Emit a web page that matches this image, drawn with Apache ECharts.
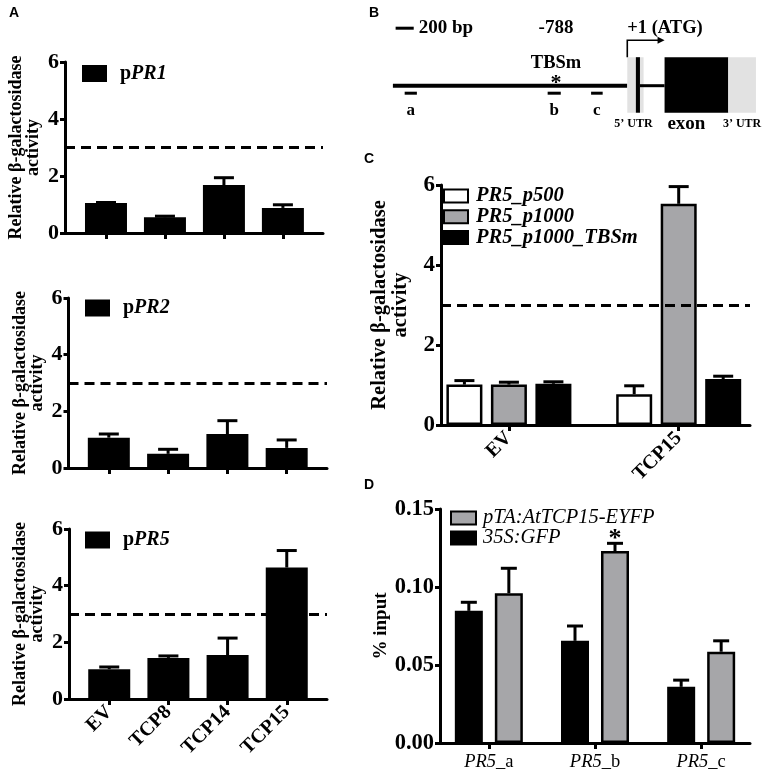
<!DOCTYPE html>
<html><head><meta charset="utf-8">
<script src="https://cdn.jsdelivr.net/npm/echarts@6/dist/echarts.min.js"></script>
<style>html,body{margin:0;padding:0;background:#fff}#chart{width:767px;height:779px}</style>
</head><body><div id="chart"></div>
<script>
// ---------- Panel A data ----------
const aCategories = ['EV', 'TCP8', 'TCP14', 'TCP15'];
const aYTicks = [0, 2, 4, 6];
const aThreshold = 3;
const pr1Values = [1.05, 0.55, 1.68, 0.88];
const pr1Errors = [0.02, 0.04, 0.26, 0.11];
const pr2Values = [1.07, 0.50, 1.20, 0.71];
const pr2Errors = [0.13, 0.16, 0.47, 0.28];
const pr5Values = [1.05, 1.45, 1.55, 4.64];
const pr5Errors = [0.08, 0.07, 0.60, 0.60];
// ---------- Panel C data ----------
const cCategories = ['EV', 'TCP15'];
const cNames = ['PR5_p500', 'PR5_p1000', 'PR5_p1000_TBSm'];
const cP500Values = [1.01, 0.77];
const cP500Errors = [0.10, 0.21];
const cP1000Values = [1.01, 5.53];
const cP1000Errors = [0.06, 0.43];
const cTBSmValues = [1.03, 1.15];
const cTBSmErrors = [0.05, 0.07];
const cYTicks = [0, 2, 4, 6];
const cThreshold = 3;
// ---------- Panel D data ----------
const dCategories = ['a', 'b', 'c'];
const dNames = ['pTA:AtTCP15-EYFP', '35S:GFP'];
const dGFPValues = [0.0847, 0.0655, 0.036];
const dGFPErrors = [0.0055, 0.0095, 0.0043];
const dTCP15Values = [0.096, 0.123, 0.0585];
const dTCP15Errors = [0.016, 0.005, 0.007];
const dSignificance = ['', '*', ''];
const dYTicks = [0, 0.05, 0.10, 0.15];
// ---------- Panel B schematic (bp, relative to ATG) ----------
const promoterRange = [-2590, 0];
const utr5Range = [0, 180];
const firstExonRange = [95, 140];
const intronRange = [140, 412];
const exonRange = [412, 1116];
const utr3Range = [1116, 1422];
const tbsPosition = -788;
const fragmentLabels = ['a', 'b', 'c'];
const fragmentRanges = [[-2460, -2325], [-880, -735], [-400, -272]];
const scaleBarRange = [-2560, -2360];
const scaleLabel = '200 bp';

const serif = 'Liberation Serif';
const sans = 'Liberation Sans';
const gray = '#a6a6a9';

function yAxisCfg(grid, ticks, name, nameGap, nameSize, nameLH, labelSize, fmt) {
  return {
    type: 'value', gridIndex: grid, min: ticks[0], max: ticks[ticks.length - 1], interval: ticks[1] - ticks[0],
    name: name, nameLocation: 'middle', nameGap: nameGap, nameRotate: 90,
    nameTextStyle: { fontFamily: serif, fontWeight: 'bold', fontSize: nameSize, color: '#000', lineHeight: nameLH },
    axisLine: { show: true, onZero: false, lineStyle: { color: '#000', width: 3 } },
    axisTick: { show: true, length: 5, lineStyle: { color: '#000', width: 3 } },
    axisLabel: { fontFamily: serif, fontWeight: 'bold', fontSize: labelSize, color: '#000', margin: 6, formatter: fmt },
    splitLine: { show: false }
  };
}
function xAxisCfg(grid, min, max, cats, label) {
  const idx = cats.map((c, i) => i);
  return {
    type: 'value', gridIndex: grid, min: min, max: max,
    axisLine: { show: true, onZero: false, lineStyle: { color: '#000', width: 3 } },
    axisTick: { show: true, customValues: idx, length: 6, lineStyle: { color: '#000', width: 3 } },
    axisLabel: Object.assign({ customValues: idx, color: '#000', fontFamily: serif }, label),
    splitLine: { show: false }
  };
}
function barSeries(name, grid, values, color, width, extra) {
  return Object.assign({
    type: 'bar', name: name, xAxisIndex: grid, yAxisIndex: grid, barWidth: width,
    data: values.map((v, i) => [i, v]),
    itemStyle: { color: color }, silent: true
  }, extra || {});
}
function thresholdLine(v) {
  return { symbol: 'none', silent: true, label: { show: false },
    lineStyle: { type: [10, 6], color: '#000', width: 3 }, data: [{ yAxis: v }] };
}
function errorSeries(name, grid, values, errors, offsetPx, capPx, marks) {
  return {
    type: 'custom', name: name, xAxisIndex: grid, yAxisIndex: grid, z: 3, silent: true,
    data: values.map((v, i) => [i, v, errors[i]]),
    encode: { x: 0, y: 1 },
    renderItem: function (params, api) {
      const i = api.value(0), v = api.value(1), e = api.value(2);
      const base = api.coord([i, v]);
      const top = api.coord([i, v + e]);
      const x = base[0] + offsetPx;
      const children = [
        { type: 'line', shape: { x1: x, y1: base[1], x2: x, y2: top[1] }, style: { stroke: '#000', lineWidth: 3 } },
        { type: 'line', shape: { x1: x - capPx / 2, y1: top[1], x2: x + capPx / 2, y2: top[1] }, style: { stroke: '#000', lineWidth: 3 } }
      ];
      if (marks && marks[params.dataIndex]) {
        children.push({ type: 'text', x: x, y: top[1] + 9, style: { text: marks[params.dataIndex], fontFamily: serif, fontSize: 26, fontWeight: 'bold', fill: '#000', align: 'center', verticalAlign: 'bottom' } });
      }
      return { type: 'group', children: children };
    }
  };
}

function renderSchematic(params, api) {
  const X = bp => api.coord([bp, 0])[0];
  const y0 = api.coord([0, 0])[1];
  const txt = (x, y, text, size, align) => ({ type: 'text', x: x, y: y,
    style: { text: text, fontFamily: serif, fontWeight: 'bold', fontSize: size, fill: '#000', align: align || 'center', verticalAlign: 'middle' } });
  const box = (r, top, bot, fill) => ({ type: 'rect', shape: { x: X(r[0]), y: y0 + top, width: X(r[1]) - X(r[0]), height: bot - top }, style: { fill: fill } });
  const hline = (r, y, w) => ({ type: 'line', shape: { x1: X(r[0]), y1: y, x2: X(r[1]), y2: y }, style: { stroke: '#000', lineWidth: w } });
  const mid = r => (X(r[0]) + X(r[1])) / 2;
  const ch = [];
  ch.push(hline(promoterRange, y0, 4));
  ch.push(box(utr5Range, -28.5, 27, '#e2e2e2'));
  ch.push(box(firstExonRange, -28.5, 27, '#000'));
  ch.push(hline(intronRange, y0, 3));
  ch.push(box(exonRange, -28.5, 27, '#000'));
  ch.push(box(utr3Range, -28.5, 27, '#e2e2e2'));
  fragmentRanges.forEach((r, k) => {
    ch.push(hline(r, y0 + 7.5, 3));
    ch.push(txt(mid(r), y0 + 25, fragmentLabels[k], 17));
  });
  ch.push(hline(scaleBarRange, y0 - 57.5, 3));
  ch.push(txt(X(scaleBarRange[1]) + 5, y0 - 57.5, scaleLabel, 19, 'left'));
  ch.push(txt(X(tbsPosition), y0 - 57.5, String(tbsPosition), 19));
  ch.push(txt(X(tbsPosition), y0 - 22.5, 'TBSm', 18.5));
  ch.push(txt(X(tbsPosition), y0 - 2, '*', 22));
  const ax = X(0), ay = y0 - 45.5, ex = X(exonRange[0]);
  ch.push({ type: 'polyline', shape: { points: [[ax, y0 - 28.5], [ax, ay], [ex - 5, ay]] }, style: { stroke: '#000', lineWidth: 1.6, fill: null } });
  ch.push({ type: 'polygon', shape: { points: [[ex, ay], [ex - 7, ay - 3.5], [ex - 7, ay + 3.5]] }, style: { fill: '#000' } });
  ch.push(txt(ax, y0 - 57.5, '+1 (ATG)', 18.5, 'left'));
  ch.push(txt(mid(utr5Range) - 2, y0 + 38.5, '5’ UTR', 12));
  ch.push(txt(mid(exonRange) - 10, y0 + 38.5, 'exon', 19));
  ch.push(txt(mid(utr3Range), y0 + 38.5, '3’ UTR', 12));
  return { type: 'group', children: ch };
}

const aName = 'Relative β-galactosidase\nactivity';
function aLegend(name, left, top) {
  return { data: [name], left: left, top: top, padding: 0, orient: 'vertical', icon: 'rect', itemWidth: 25, itemHeight: 17,
    selectedMode: false, formatter: n => '{p|p}{i|' + n.slice(1) + '}',
    textStyle: { rich: {
      p: { fontFamily: serif, fontWeight: 'bold', fontSize: 20, lineHeight: 20, color: '#000', padding: [0, 0, 0, 8] },
      i: { fontFamily: serif, fontWeight: 'bold', fontStyle: 'italic', fontSize: 20, lineHeight: 20, color: '#000' } } } };
}
function letter(text, left, top) {
  return { text: text, left: left, top: top, padding: 0, textStyle: { fontFamily: sans, fontWeight: 'bold', fontSize: 14, color: '#000' } };
}

const cBarWidth = 36, cGapPx = 8.5;
const dBarWidth = 28, dGapPx = 12;
const cStep = cBarWidth + cGapPx, dStep = dBarWidth + dGapPx;

const option = {
  backgroundColor: '#fff',
  animation: false,
  title: [letter('A', 9, 6), letter('B', 369, 6), letter('C', 364, 152), letter('D', 364, 478)],
  grid: [
    { left: 65, top: 62, width: 258, height: 171 },
    { left: 68.5, top: 298, width: 258.5, height: 170 },
    { left: 69, top: 529, width: 258, height: 170 },
    { left: 392, top: 35.7, width: 366.5, height: 100 },
    { left: 441, top: 185, width: 309, height: 240 },
    { left: 440, top: 509, width: 310, height: 234 }
  ],
  legend: [
    aLegend('pPR1', 82, 63.5),
    aLegend('pPR2', 85, 298),
    aLegend('pPR5', 85, 530),
    { data: cNames, left: 443, top: 186, padding: 0, orient: 'vertical', icon: 'rect', itemWidth: 24, itemHeight: 13, itemGap: 0.7,
      selectedMode: false, formatter: n => '{i|' + n + '}',
      textStyle: { rich: { i: { fontFamily: serif, fontWeight: 'bold', fontStyle: 'italic', fontSize: 20.5, lineHeight: 21, color: '#000', padding: [0, 0, 0, 3] } } } },
    { data: dNames, left: 450, top: 508, padding: 0, orient: 'vertical', icon: 'rect', itemWidth: 25, itemHeight: 13, itemGap: 0,
      selectedMode: false, formatter: n => '{i|' + n + '}',
      textStyle: { rich: { i: { fontFamily: serif, fontStyle: 'italic', fontSize: 20.5, lineHeight: 20, color: '#000', padding: [0, 0, 0, 2] } } } }
  ],
  xAxis: [
    xAxisCfg(0, -0.695, 3.68, aCategories, { show: false }),
    xAxisCfg(1, -0.68, 3.68, aCategories, { show: false }),
    xAxisCfg(2, -0.68, 3.68, aCategories, { fontWeight: 'bold', fontSize: 20, rotate: 45, margin: 10, formatter: v => aCategories[v] }),
    { type: 'value', gridIndex: 3, min: -2600, max: 1450, show: false },
    xAxisCfg(4, -0.4, 1.42, cCategories, { fontWeight: 'bold', fontSize: 20, rotate: 45, margin: 10, formatter: v => cCategories[v] }),
    xAxisCfg(5, -0.46, 2.46, dCategories, { fontSize: 18, margin: 10,
      formatter: v => '{i|PR5}{n|_' + dCategories[v] + '}',
      rich: { i: { fontFamily: serif, fontStyle: 'italic', fontSize: 18.5, color: '#000' }, n: { fontFamily: serif, fontSize: 18.5, color: '#000' } } })
  ],
  yAxis: [
    yAxisCfg(0, aYTicks, aName, 23, 18, 17, 22),
    yAxisCfg(1, aYTicks, aName, 23, 18, 17, 22),
    yAxisCfg(2, aYTicks, aName, 23, 18, 17, 22),
    { type: 'value', gridIndex: 3, min: -1, max: 1, show: false },
    yAxisCfg(4, cYTicks, aName, 30, 20.5, 21, 23),
    yAxisCfg(5, dYTicks, '% input', 47, 19, 19, 22.5, v => v.toFixed(2))
  ],
  series: [
    barSeries('pPR1', 0, pr1Values, '#000', 42, { markLine: thresholdLine(aThreshold) }),
    errorSeries('pPR1 error', 0, pr1Values, pr1Errors, 0, 20),
    barSeries('pPR2', 1, pr2Values, '#000', 42, { markLine: thresholdLine(aThreshold) }),
    errorSeries('pPR2 error', 1, pr2Values, pr2Errors, 0, 20),
    barSeries('pPR5', 2, pr5Values, '#000', 42, { markLine: thresholdLine(aThreshold) }),
    errorSeries('pPR5 error', 2, pr5Values, pr5Errors, 0, 20),
    { type: 'custom', name: 'schematic', xAxisIndex: 3, yAxisIndex: 3, silent: true, clip: false, data: [[0, 0]], renderItem: renderSchematic },
    barSeries(cNames[0], 4, cP500Values, '#fff', cBarWidth, { barGap: (cGapPx / cBarWidth * 100) + '%', itemStyle: { color: '#fff', borderColor: '#000', borderWidth: 2.5 }, markLine: thresholdLine(cThreshold) }),
    barSeries(cNames[1], 4, cP1000Values, gray, cBarWidth, { barGap: (cGapPx / cBarWidth * 100) + '%', itemStyle: { color: gray, borderColor: '#000', borderWidth: 2.5 } }),
    barSeries(cNames[2], 4, cTBSmValues, '#000', cBarWidth, { barGap: (cGapPx / cBarWidth * 100) + '%', itemStyle: { color: '#000', borderColor: '#000', borderWidth: 2.5 } }),
    errorSeries('c1 error', 4, cP500Values, cP500Errors, -cStep, 20),
    errorSeries('c2 error', 4, cP1000Values, cP1000Errors, 0, 20),
    errorSeries('c3 error', 4, cTBSmValues, cTBSmErrors, cStep, 20),
    barSeries(dNames[1], 5, dGFPValues, '#000', dBarWidth, { barGap: (dGapPx / dBarWidth * 100) + '%', itemStyle: { color: '#000', borderColor: '#000', borderWidth: 2.5 } }),
    barSeries(dNames[0], 5, dTCP15Values, gray, dBarWidth, { barGap: (dGapPx / dBarWidth * 100) + '%', itemStyle: { color: gray, borderColor: '#000', borderWidth: 2.5 } }),
    errorSeries('d1 error', 5, dGFPValues, dGFPErrors, -dStep / 2, 16),
    errorSeries('d2 error', 5, dTCP15Values, dTCP15Errors, dStep / 2, 16, dSignificance)
  ]
};
const chart = echarts.init(document.getElementById('chart'));
chart.setOption(option);
</script></body></html>
